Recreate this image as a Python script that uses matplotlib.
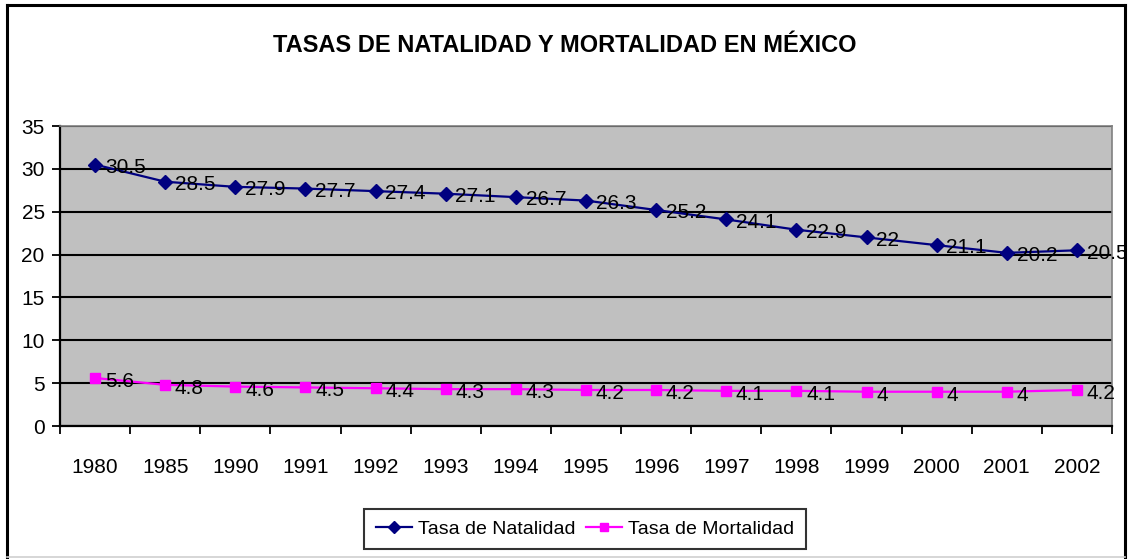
import numpy as np
import matplotlib.pyplot as plt
from matplotlib.lines import Line2D
from matplotlib import font_manager

# Datos
anios = ['1980', '1985', '1990', '1991', '1992', '1993', '1994', '1995',
         '1996', '1997', '1998', '1999', '2000', '2001', '2002']
natalidad = [30.5, 28.5, 27.9, 27.7, 27.4, 27.1, 26.7, 26.3, 25.2, 24.1,
             22.9, 22, 21.1, 20.2, 20.5]
mortalidad = [5.6, 4.8, 4.6, 4.5, 4.4, 4.3, 4.3, 4.2, 4.2, 4.1, 4.1, 4, 4, 4, 4.2]

# Fuente estrecha tipo Arial si existe
nombres = {f.name for f in font_manager.fontManager.ttflist}
fuente = 'Liberation Sans Narrow' if 'Liberation Sans Narrow' in nombres else 'Liberation Sans'
plt.rcParams['font.family'] = [fuente, 'DejaVu Sans']

W, H = 1128, 559
fig = plt.figure(figsize=(W / 100, H / 100), dpi=100)
fig.patch.set_facecolor('white')

# Marco exterior del gráfico
fig.add_artist(Line2D([7 / W, 7 / W], [1 - 5 / H, 2 / H], color='black', lw=2.2))
fig.add_artist(Line2D([7 / W, 1125 / W], [1 - 5 / H, 1 - 5 / H], color='black', lw=2.2))
fig.add_artist(Line2D([1125 / W, 1125 / W], [1 - 5 / H, 2 / H], color='black', lw=2.2))
fig.add_artist(Line2D([7 / W, 1125 / W], [2 / H, 2 / H], color='#d0d0d0', lw=1.2))

ax = fig.add_axes([60 / W, 1 - 426 / H, (1112 - 60) / W, (426 - 126) / H])
ax.set_facecolor('#c0c0c0')

x = np.arange(len(anios))
ax.plot(x, natalidad, color='#000080', lw=1.6, marker='D', markersize=7.5,
        label='Tasa de Natalidad', zorder=3)
ax.plot(x, mortalidad, color='#ff00ff', lw=1.6, marker='s', markersize=7,
        label='Tasa de Mortalidad', zorder=3)

for xi, v in zip(x, natalidad):
    ax.annotate(f'{v:g}', (xi, v), xytext=(7, -2), textcoords='offset points',
                ha='left', va='center', fontsize=15, zorder=4)
for xi, v in zip(x, mortalidad):
    ax.annotate(f'{v:g}', (xi, v), xytext=(7, -2.5), textcoords='offset points',
                ha='left', va='center', fontsize=15, zorder=4)

ax.set_xlim(-0.5, len(anios) - 0.5)
ax.set_ylim(0, 35)
ax.set_yticks(np.arange(0, 36, 5))
ax.yaxis.grid(True, color='black', lw=1.5)
ax.set_axisbelow(True)

# Marcas en los límites de categoría, etiquetas centradas
ax.set_xticks(np.arange(-0.5, len(anios), 1))
ax.set_xticklabels([])
ax.set_xticks(x, minor=True)
ax.set_xticklabels(anios, minor=True)
ax.tick_params(axis='x', which='major', length=6, width=1.3, direction='out')
ax.tick_params(axis='x', which='minor', length=0, pad=23, labelsize=15)
ax.tick_params(axis='y', length=6, width=1.3, direction='out', pad=5, labelsize=15)

for lado in ['left', 'bottom']:
    ax.spines[lado].set_color('black')
    ax.spines[lado].set_linewidth(1.6)
for lado in ['top', 'right']:
    ax.spines[lado].set_color('#808080')
    ax.spines[lado].set_linewidth(1.2)

fig.text(565 / W, 1 - 45 / H, 'TASAS DE NATALIDAD Y MORTALIDAD EN MÉXICO',
         ha='center', va='center', fontsize=17, fontweight='bold')

leg = fig.legend(loc='center', bbox_to_anchor=(585 / W, 1 - 529 / H), ncol=2,
                 fontsize=14, frameon=True, fancybox=False, edgecolor='black',
                 handlelength=1.9, handletextpad=0.3, columnspacing=0.5,
                 borderpad=0.6, markerscale=0.8)
leg.get_frame().set_linewidth(1.5)

fig.savefig('out.png', dpi=100)
